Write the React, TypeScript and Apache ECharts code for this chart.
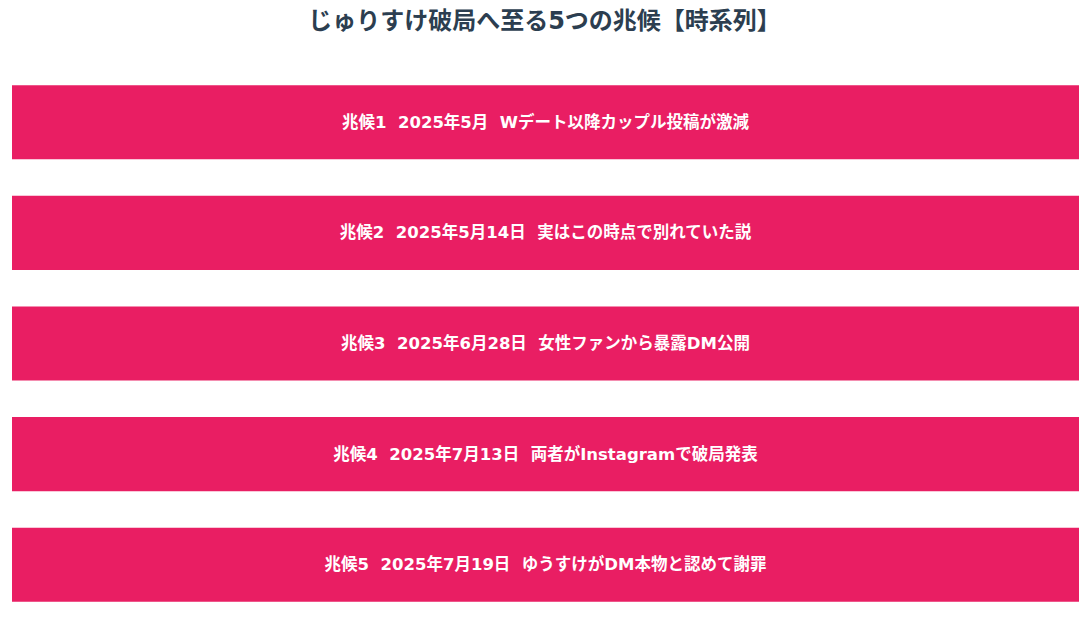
import React, { useEffect, useRef } from 'react';
import * as echarts from 'echarts';

// 兆候ごとのラベル
const signNames = ['兆候1', '兆候2', '兆候3', '兆候4', '兆候5'];
const signDates = ['2025年5月', '2025年5月14日', '2025年6月28日', '2025年7月13日', '2025年7月19日'];
const signEvents = [
  'Wデート以降カップル投稿が激減',
  '実はこの時点で別れていた説',
  '女性ファンから暴露DM公開',
  '両者がInstagramで破局発表',
  'ゆうすけがDM本物と認めて謝罪'
];
const barValues = [1, 1, 1, 1, 1];

const FONT = '"DejaVu Sans", "Noto Sans CJK JP", sans-serif';

export default function App() {
  const chartRef = useRef<HTMLDivElement>(null);

  useEffect(() => {
    if (!chartRef.current) return;
    const chart = echarts.init(chartRef.current, undefined, { renderer: 'svg' });

    const option: echarts.EChartsOption = {
      animation: false,
      backgroundColor: '#ffffff',
      title: {
        text: 'じゅりすけ破局へ至る5つの兆候【時系列】',
        left: 'center',
        top: 4,
        textStyle: {
          fontFamily: FONT,
          fontSize: 24,
          fontWeight: 'bold',
          color: '#2c3e50'
        }
      },
      grid: {
        left: 12,
        right: 10,
        top: 67,
        bottom: 20,
        containLabel: false
      },
      xAxis: {
        type: 'value',
        min: 0,
        max: 1,
        show: false
      },
      yAxis: {
        type: 'category',
        data: signNames,
        inverse: true,
        show: false
      },
      series: [
        {
          type: 'bar',
          data: barValues,
          barWidth: '67%',
          itemStyle: { color: '#e91e63' },
          label: {
            show: true,
            position: 'inside',
            color: '#ffffff',
            fontFamily: FONT,
            fontSize: 16.5,
            fontWeight: 'bold',
            formatter: (p: any) =>
              `${signNames[p.dataIndex]}  ${signDates[p.dataIndex]}  ${signEvents[p.dataIndex]}`
          }
        }
      ]
    };

    chart.setOption(option);
    return () => chart.dispose();
  }, []);

  return (
    <div
      ref={chartRef}
      style={{ position: 'absolute', left: 0, top: 0, width: 1089, height: 640 }}
    />
  );
}
